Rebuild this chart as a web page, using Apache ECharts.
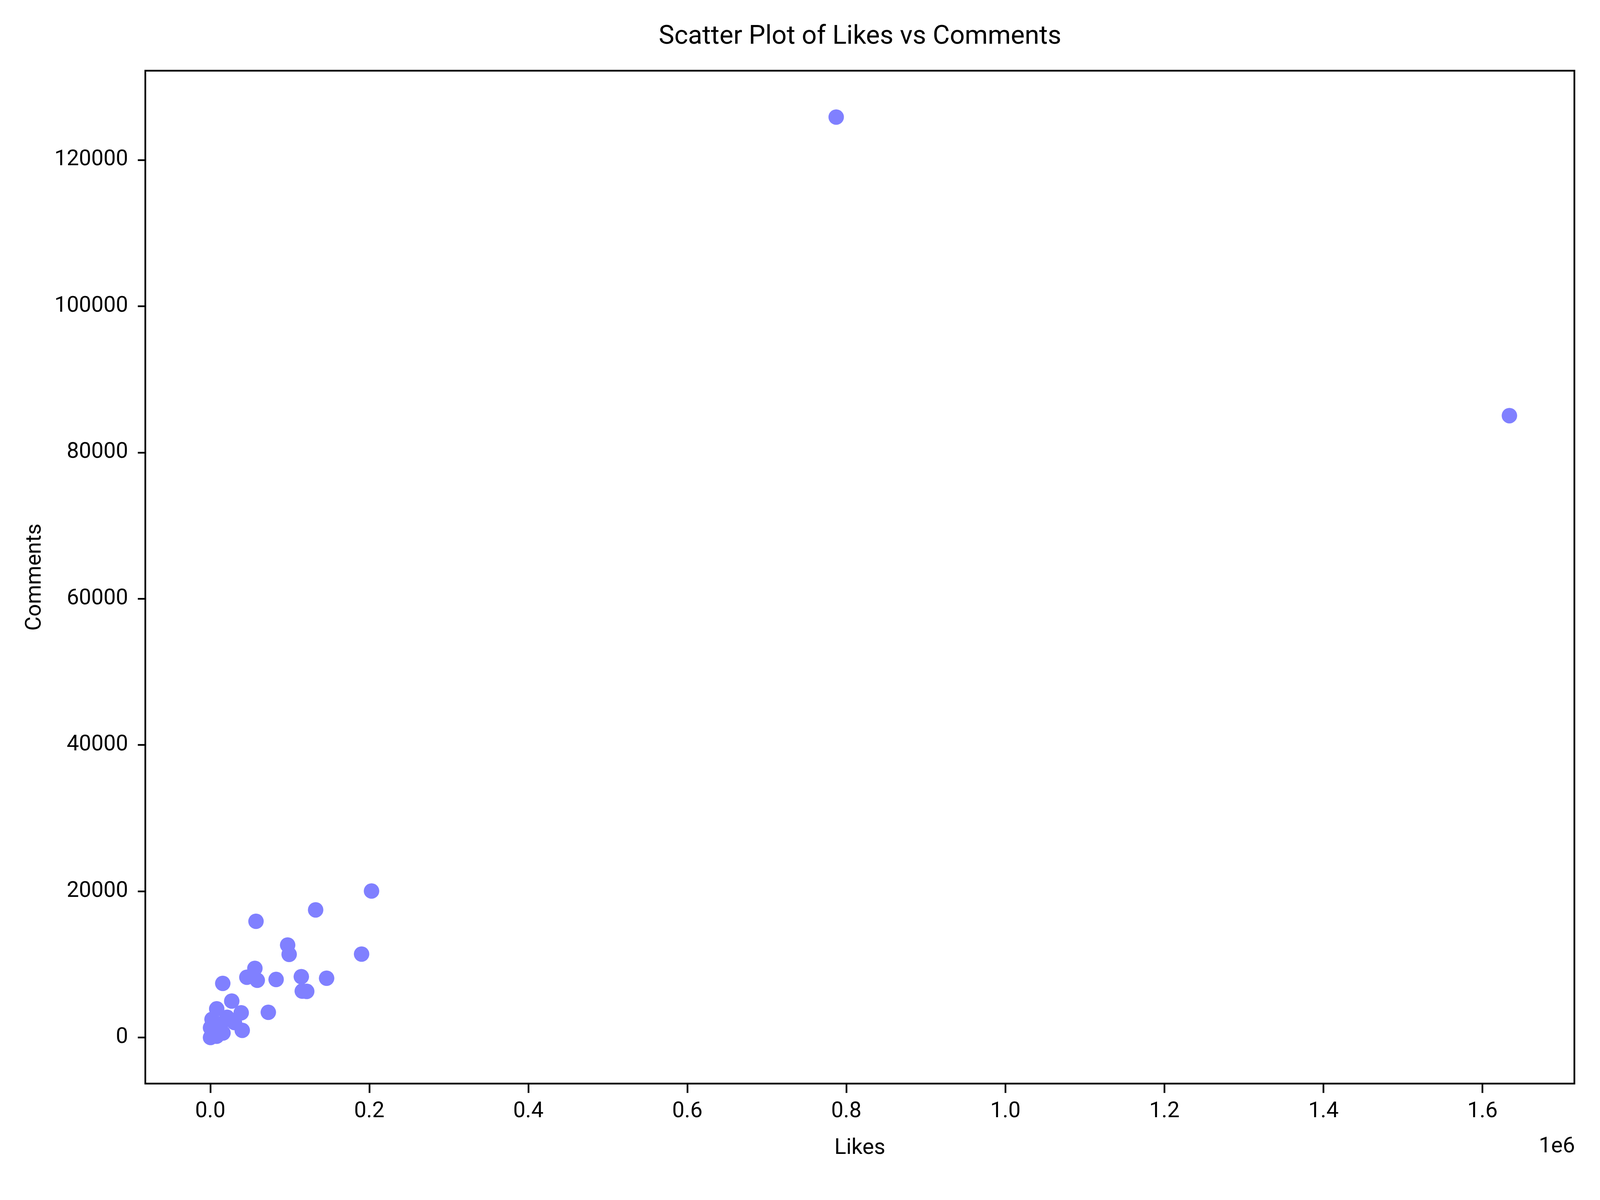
<!DOCTYPE html>
<html>
<head>
<meta charset="utf-8">
<script src="https://cdn.jsdelivr.net/npm/echarts@6/dist/echarts.min.js"></script>
<style>
html,body{margin:0;padding:0;background:#fff;overflow:hidden;}
#chart{width:100vw;height:100vh;}
</style>
</head>
<body>
<div id="chart"></div>
<script>
// Likes per post
const likes = [
  202800, 132500, 57500, 97300, 99200, 190300, 56100, 46000, 59100, 82800,
  15700, 114500, 146300, 115700, 121300, 73000, 27000, 8100, 38900, 40200,
  16000, 300, 2200, 8000, 21200, 30400, 13400, 300, 787200, 1633900
];
// Comments per post (same order)
const comments = [
  20030, 17450, 15890, 12650, 11370, 11410, 9460, 8240, 7830, 7940,
  7400, 8320, 8110, 6350, 6310, 3450, 4980, 3920, 3380, 980,
  620, 0, 2490, 180, 2760, 2050, 1870, 1340, 125860, 85030
];
const xTicks = [0, 200000, 400000, 600000, 800000, 1000000, 1200000, 1400000, 1600000];
const yTicks = [0, 20000, 40000, 60000, 80000, 100000, 120000];

const points = likes.map((v, i) => [v, comments[i]]);
const FONT = 'Roboto';

const el = document.getElementById('chart');
const SX = el.clientWidth / 5120;
const SY = el.clientHeight / 3072;
const SF = Math.min(SX, SY);
const px = v => v * SX;
const py = v => v * SY;
const pf = v => v * SF;

const titleText = 'Scatter Plot of Likes vs Comments';
const titleSize = pf(84);
const mctx = document.createElement('canvas').getContext('2d');
mctx.font = titleSize + 'px ' + FONT;
const titleW = mctx.measureText(titleText).width;

const chart = echarts.init(el, null, {renderer: 'canvas'});
chart.setOption({
  animation: false,
  backgroundColor: '#ffffff',
  title: {
    text: titleText,
    left: px(2752) - titleW / 2,
    top: py(62),
    padding: 0,
    textStyle: {fontFamily: FONT, fontSize: titleSize, fontWeight: 'normal', color: '#000', lineHeight: titleSize}
  },
  grid: {
    left: px(465), right: px(82), top: py(181), bottom: py(298),
    containLabel: false,
    show: true, borderColor: '#000', borderWidth: pf(5.5), backgroundColor: 'transparent'
  },
  xAxis: {
    type: 'value',
    min: -81700, max: 1715600,
    name: 'Likes',
    nameLocation: 'middle',
    nameGap: py(138),
    nameTextStyle: {fontFamily: FONT, fontSize: pf(70), color: '#000', lineHeight: pf(70)},
    axisLine: {show: false, onZero: false},
    splitLine: {show: false},
    axisTick: {show: true, customValues: xTicks, length: py(24), inside: false, lineStyle: {color: '#000', width: pf(5.5)}},
    axisLabel: {
      customValues: xTicks,
      margin: py(44),
      fontFamily: FONT, fontSize: pf(70), color: '#000', lineHeight: pf(70),
      formatter: v => (v / 1e6).toFixed(1)
    }
  },
  yAxis: {
    type: 'value',
    min: -6300, max: 132200,
    name: 'Comments',
    nameLocation: 'middle',
    nameGap: px(318),
    nameTextStyle: {fontFamily: FONT, fontSize: pf(70), color: '#000', lineHeight: pf(70)},
    axisLine: {show: false, onZero: false},
    splitLine: {show: false},
    axisTick: {show: true, customValues: yTicks, length: px(24), inside: false, lineStyle: {color: '#000', width: pf(5.5)}},
    axisLabel: {
      customValues: yTicks,
      margin: px(55),
      fontFamily: FONT, fontSize: pf(70), color: '#000',
      formatter: v => String(v)
    }
  },
  graphic: [{
    type: 'text',
    right: px(80),
    top: py(2908),
    style: {text: '1e6', font: pf(70) + 'px Roboto', fill: '#000'}
  }],
  series: [{
    type: 'scatter',
    data: points,
    symbol: 'circle',
    symbolSize: px(49.5),
    itemStyle: {color: '#8080ff', opacity: 1},
    emphasis: {disabled: true}
  }]
});
</script>
</body>
</html>
